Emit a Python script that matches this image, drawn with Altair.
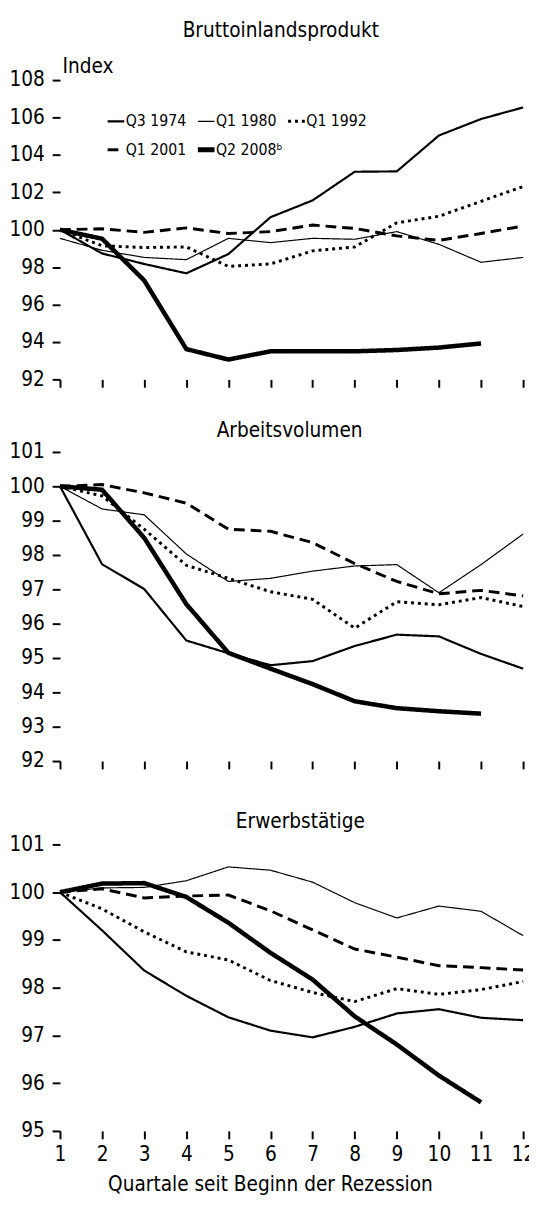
import altair as alt
import pandas as pd

FONT = "Liberation Sans Narrow, DejaVu Sans Condensed, Liberation Sans, sans-serif"

quarters = list(range(1, 13))
series_names = ["Q3 1974", "Q1 1980", "Q1 1992", "Q1 2001", "Q2 2008"]

# Bruttoinlandsprodukt
bip_q3_1974 = [100, 98.73, 98.17, 97.67, 98.7, 100.67, 101.57, 103.1, 103.12, 105.04, 105.92, 106.54]
bip_q1_1980 = [99.54, 98.9, 98.52, 98.4, 99.54, 99.31, 99.54, 99.49, 99.9, 99.22, 98.26, 98.52]
bip_q1_1992 = [100, 99.14, 99.05, 99.08, 98.04, 98.17, 98.87, 99.08, 100.37, 100.72, 101.52, 102.31]
bip_q1_2001 = [100, 100.05, 99.86, 100.1, 99.8, 99.9, 100.25, 100.07, 99.67, 99.43, 99.8, 100.2]
bip_q2_2008 = [100, 99.52, 97.29, 93.62, 93.06, 93.5, 93.5, 93.5, 93.57, 93.7, 93.92]

# Arbeitsvolumen
av_q3_1974 = [100, 97.73, 97.01, 95.51, 95.14, 94.79, 94.91, 95.35, 95.68, 95.63, 95.12, 94.69]
av_q1_1980 = [100, 99.34, 99.17, 98.03, 97.23, 97.32, 97.53, 97.68, 97.72, 96.9, 97.72, 98.61]
av_q1_1992 = [100, 99.72, 98.75, 97.7, 97.32, 96.93, 96.71, 95.87, 96.64, 96.55, 96.76, 96.5]
av_q1_2001 = [100, 100.05, 99.81, 99.51, 98.75, 98.69, 98.36, 97.75, 97.23, 96.87, 96.97, 96.81]
av_q2_2008 = [100, 99.9, 98.5, 96.57, 95.15, 94.69, 94.24, 93.74, 93.54, 93.45, 93.38]

# Erwerbstätige
ew_q3_1974 = [100, 99.2, 98.36, 97.83, 97.38, 97.1, 96.96, 97.18, 97.46, 97.55, 97.37, 97.32]
ew_q1_1980 = [100, 100.09, 100.1, 100.24, 100.53, 100.46, 100.21, 99.78, 99.46, 99.71, 99.6, 99.09]
ew_q1_1992 = [100, 99.65, 99.17, 98.75, 98.58, 98.15, 97.9, 97.71, 97.98, 97.86, 97.96, 98.13]
ew_q1_2001 = [100, 100.07, 99.88, 99.92, 99.94, 99.61, 99.21, 98.81, 98.64, 98.46, 98.42, 98.37]
ew_q2_2008 = [100, 100.18, 100.19, 99.9, 99.36, 98.73, 98.17, 97.4, 96.81, 96.16, 95.6]

bip_ticks = [92, 94, 96, 98, 100, 102, 104, 106, 108]
av_ticks = [92, 93, 94, 95, 96, 97, 98, 99, 100, 101]
ew_ticks = [95, 96, 97, 98, 99, 100, 101]

dash_range = [[1, 0], [1, 0], [3, 4], [11, 6], [1, 0]]
WIDTH_EXPR_LINE = ("datum.series == 'Q2 2008' ? 4.6 : datum.series == 'Q1 1980' ? 1.2 : "
                   "datum.series == 'Q3 1974' ? 2.2 : 3")
WIDTH_EXPR_LEGEND = ("datum.value == 'Q2 2008' ? 5 : datum.value == 'Q1 1980' ? 1.2 : "
                     "datum.value == 'Q3 1974' ? 2.2 : 3")


def long_frame(series_lists):
    rows = []
    for name, vals in zip(series_names, series_lists):
        for q, v in zip(quarters, vals):
            rows.append({"quarter": q, "value": v, "series": name})
    return pd.DataFrame(rows)


bip_df = long_frame([bip_q3_1974, bip_q1_1980, bip_q1_1992, bip_q1_2001, bip_q2_2008])
av_df = long_frame([av_q3_1974, av_q1_1980, av_q1_1992, av_q1_2001, av_q2_2008])
ew_df = long_frame([ew_q3_1974, ew_q1_1980, ew_q1_1992, ew_q1_2001, ew_q2_2008])

W = 472
FS = 21


def panel(df, domain, ticks, height, title, title_dy, title_dx, bottom=False, legend=None, index_title=False):
    if bottom:
        x_axis = alt.Axis(values=quarters, domain=False, grid=False, tickSize=8, tickWidth=2,
                          tickColor="black", labels=True, labelFont=FONT, labelFontSize=FS,
                          labelColor="black", labelPadding=5, labelFlush=False, format="d",
                          title="Quartale seit Beginn der Rezession", titleFont=FONT,
                          titleFontSize=FS, titleFontWeight="normal", titleColor="black",
                          titlePadding=10, titleX=214)
    else:
        x_axis = alt.Axis(values=quarters, domain=False, grid=False, tickSize=8, tickWidth=2,
                          tickColor="black", labels=False, title=None)
    y_kwargs = dict(values=ticks, format="d", domain=False, grid=False, tickSize=8, tickWidth=2,
                    tickColor="black", labelFont=FONT, labelFontSize=FS, labelColor="black",
                    labelPadding=8)
    if index_title:
        y_axis = alt.Axis(title="Index", titleAngle=0, titleAlign="left", titleBaseline="alphabetic",
                          titleX=2, titleY=-8, titleFont=FONT, titleFontSize=FS,
                          titleFontWeight="normal", titleColor="black", **y_kwargs)
    else:
        y_axis = alt.Axis(title=None, **y_kwargs)

    return alt.Chart(df).transform_calculate(
        lw=WIDTH_EXPR_LINE
    ).mark_line(color="black", clip=False).encode(
        x=alt.X("quarter:Q", scale=alt.Scale(domain=[1, 12], nice=False, zero=False), axis=x_axis),
        y=alt.Y("value:Q", scale=alt.Scale(domain=domain, nice=False, zero=False), axis=y_axis),
        strokeDash=alt.StrokeDash("series:N", scale=alt.Scale(domain=series_names, range=dash_range),
                                  legend=legend),
        strokeWidth=alt.StrokeWidth("lw:Q", scale=None),
        order="quarter:Q",
    ).properties(
        width=W, height=height,
        title=alt.TitleParams(title, font=FONT, fontSize=FS, fontWeight="normal", color="black",
                              anchor="middle", baseline="alphabetic", offset=18, dy=title_dy,
                              dx=title_dx),
    )


legend = alt.Legend(orient="none", legendX=49, legendY=33, columns=3, direction="horizontal",
                    symbolType="stroke", symbolSize=289, symbolStrokeColor="black",
                    symbolStrokeWidth=alt.ExprRef(WIDTH_EXPR_LEGEND),
                    labelFont=FONT, labelFontSize=16, labelColor="black", labelOffset=2,
                    columnPadding=-5, rowPadding=10, gridAlign="all", title=None, padding=0,
                    labelExpr="datum.label == 'Q2 2008' ? 'Q2 2008\u1d47' : datum.label")

p1 = panel(bip_df, [92, 108], bip_ticks, 305, "Bruttoinlandsprodukt", 20, -11,
           legend=legend, index_title=True)
p2 = panel(av_df, [92, 101], av_ticks, 315, "Arbeitsvolumen", 35, -2, legend=None)
p3 = panel(ew_df, [95, 101.226], ew_ticks, 303, "Erwerbstätige", 33, 9, bottom=True, legend=None)

chart = alt.vconcat(
    p1, p2, p3, spacing=74, bounds="flush",
    padding={"left": 0, "top": 1, "right": -7, "bottom": 0},
).resolve_scale(
    x="independent", y="independent", strokeDash="independent"
).resolve_legend(
    strokeDash="independent"
).configure_view(stroke=None)

chart.save("out.html", embed_options={"renderer": "svg", "actions": False})
